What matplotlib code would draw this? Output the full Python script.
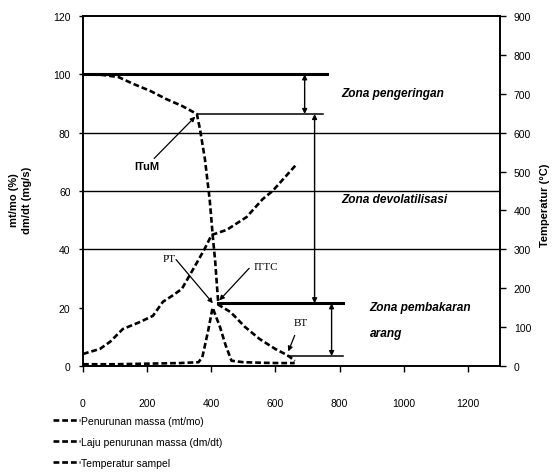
import numpy as np
import matplotlib
matplotlib.use("Agg")
import matplotlib.pyplot as plt

plt.rcParams["font.family"] = ["Liberation Sans", "DejaVu Sans"]

# ── Data ──────────────────────────────────────────────────────────────────────
t_mass = [0, 60, 110, 155, 210, 260, 310, 355, 365, 380, 395, 405, 412, 418, 422,
          460, 505, 550, 600, 630, 645, 660]
mass = [100, 99.8, 99.1, 96.8, 94.3, 91.5, 89.1, 86.4, 81, 71, 57, 44, 36, 27, 21,
        18.5, 13.4, 9.3, 5.8, 4.1, 3.1, 1.7]

t_dtg = [0, 100, 200, 300, 360, 372, 390, 404, 427, 445, 463, 500, 560, 620, 660]
dtg = [0.6, 0.6, 0.8, 1.0, 1.3, 3.0, 12, 20, 13.4, 7, 1.8, 1.3, 1.1, 1.0, 1.0]

t_temp = [0, 53, 84, 124, 177, 218, 249, 277, 308, 358, 379, 401, 448, 510, 560, 591, 666]
temp = [31, 44, 62, 95, 113, 129, 165, 180, 198, 270, 301, 337, 350, 383, 429, 450, 519]

left_ticks = [0, 20, 40, 60, 80, 100, 120]
right_ticks = [0, 100, 200, 300, 400, 500, 600, 700, 800, 900]
x_ticks = [0, 200, 400, 600, 800, 1000, 1200]
grid_levels = [40, 60, 80]

labels = ["Penurunan massa (mt/mo)", "Laju penurunan massa (dm/dt)", "Temperatur sampel"]

# zone boundary levels (left axis units)
lvl_start, lvl_itum, lvl_ittc, lvl_bt = 100, 86.4, 21.5, 3.4

# ── Figure ────────────────────────────────────────────────────────────────────
fig = plt.figure(figsize=(5.59, 4.77), dpi=100)
ax = fig.add_axes([83 / 559, 1 - 367 / 477, (500 - 83) / 559, (367 - 17) / 477])
ax2 = ax.twinx()

dash = (0, (2.2, 1.1))
l1, = ax.plot(t_mass, mass, color="black", lw=1.9, ls=dash, zorder=4)
l2, = ax.plot(t_dtg, dtg, color="black", lw=1.9, ls=dash, zorder=4)
l3, = ax2.plot(t_temp, temp, color="black", lw=1.9, ls=dash, zorder=4)

for g in grid_levels:
    ax.axhline(g, color="black", lw=1.0, zorder=1)

ax.set_xlim(0, 1300)
ax.set_ylim(0, 120)
ax2.set_ylim(0, 900)
ax.set_xticks(x_ticks)
ax.set_yticks(left_ticks)
ax2.set_yticks(right_ticks)

for a in (ax, ax2):
    for s in a.spines.values():
        s.set_linewidth(1.2)

ax.tick_params(axis="x", direction="out", length=4, width=1, pad=19, labelsize=7.5)
ax.tick_params(axis="y", direction="out", length=3, width=1, pad=6, labelsize=7.5)
ax2.tick_params(axis="y", direction="out", length=4, width=1, pad=6, labelsize=7.5)

# ── Zone markers ──────────────────────────────────────────────────────────────
ax.plot([0, 762], [lvl_start] * 2, color="black", lw=2.2, zorder=3)
ax.plot([355, 747], [lvl_itum] * 2, color="black", lw=1.1, zorder=3)
ax.plot([420, 810], [lvl_ittc] * 2, color="black", lw=2.2, zorder=3)
ax.plot([640, 810], [lvl_bt] * 2, color="black", lw=1.1, zorder=3)

arr = dict(arrowstyle="<|-|>", color="black", lw=1.0, mutation_scale=7,
           shrinkA=0, shrinkB=0)
ax.annotate("", xy=(691, lvl_start), xytext=(691, lvl_itum), arrowprops=arr)
ax.annotate("", xy=(722, lvl_itum), xytext=(722, lvl_ittc), arrowprops=arr)
ax.annotate("", xy=(775, lvl_ittc), xytext=(775, lvl_bt), arrowprops=arr)

zone_kw = dict(fontsize=8.6, style="italic", weight="bold", va="center", ha="left")
ax.text(805, 93.5, "Zona pengeringan", **zone_kw)
ax.text(805, 57.2, "Zona devolatilisasi", **zone_kw)
ax.text(893, 20.3, "Zona pembakaran", **zone_kw)
ax.text(893, 11.4, "arang", **zone_kw)

# ── Point labels ──────────────────────────────────────────────────────────────
pt_arr = dict(arrowstyle="-|>", color="black", lw=0.9, mutation_scale=7,
              shrinkA=0, shrinkB=0)
ax.annotate("ITuM", xy=(350, 85.5), xytext=(198, 68.5), fontsize=8, weight="bold",
            ha="center", va="center", arrowprops=pt_arr)
ax.annotate("", xy=(405, 21.5), xytext=(290, 36.5), arrowprops=pt_arr)
ax.text(270, 36.8, "PT", fontsize=8, family="Liberation Serif", ha="center", va="center")
ax.annotate("", xy=(425, 22.5), xytext=(518, 33.5), arrowprops=pt_arr)
ax.text(570, 34.2, "ITTC", fontsize=8, family="Liberation Serif", ha="center", va="center")
ax.annotate("", xy=(640, 5.0), xytext=(660, 10.5), arrowprops=pt_arr)
ax.text(678, 15.0, "BT", fontsize=8, family="Liberation Serif", ha="center", va="center")

# ── Axis titles ───────────────────────────────────────────────────────────────
fig.text(14 / 559, 1 - 200 / 477, "mt/mo (%)", rotation=90, fontsize=8, weight="bold",
         ha="center", va="center")
fig.text(27 / 559, 1 - 200 / 477, "dm/dt (mg/s)", rotation=90, fontsize=8, weight="bold",
         ha="center", va="center")
fig.text(545 / 559, 1 - 205 / 477, "Temperatur (°C)", rotation=90, fontsize=8,
         weight="bold", ha="center", va="center")

fig.legend([l1, l2, l3], labels, loc="upper left",
           bbox_to_anchor=(53 / 559, 1 - 417 / 477), frameon=False, fontsize=7.5,
           handlelength=2.6, handletextpad=0.1, labelspacing=1.05, borderpad=0,
           borderaxespad=0)

fig.savefig("out.png", dpi=100)
